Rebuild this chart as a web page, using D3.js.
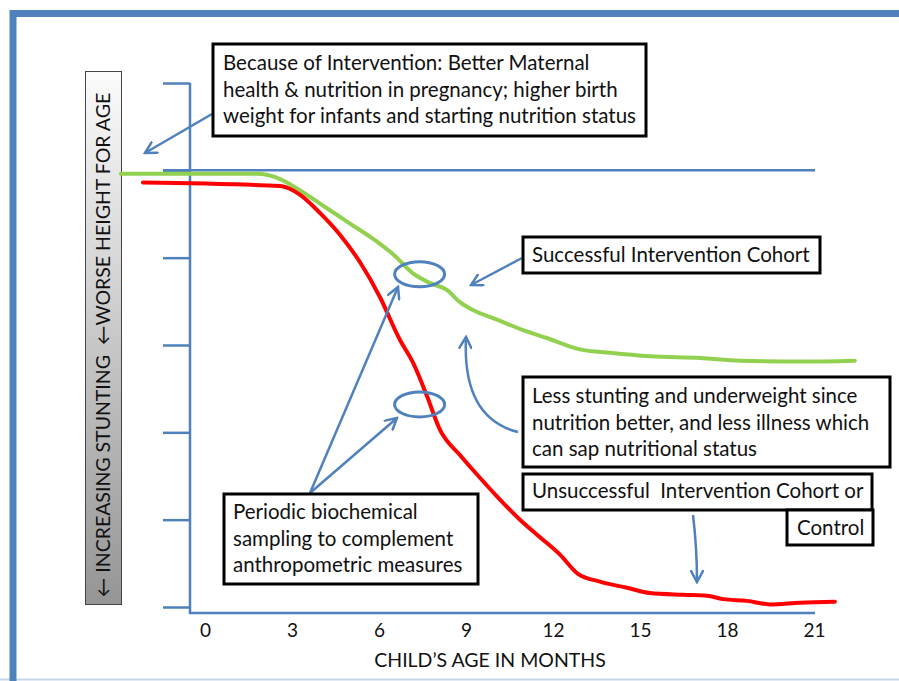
<!DOCTYPE html>
<html>
<head>
<meta charset="utf-8">
<script src="https://cdn.jsdelivr.net/npm/d3@7"></script>
<style>
  body { margin: 0; background: #fff; }
  svg { display: block; font-family: Lato, "Open Sans", sans-serif; }
</style>
</head>
<body>
<div class="container"></div>
<script>
const xTicks = [0, 3, 6, 9, 12, 15, 18, 21];
const yTicks = [1, 0, -1, -2, -3, -4, -5];

// successful intervention cohort (green)
const greenMonths = [-2.90, 1.79, 2.59, 3.28, 4.14, 5.00, 5.86, 6.55, 7.17, 7.76, 8.34, 8.79, 9.24,
  10.07, 10.97, 11.79, 12.93, 13.97, 15.34, 17.07, 18.45, 20.52, 22.41];
const greenValues = [-0.04, -0.04, -0.10, -0.23, -0.42, -0.61, -0.80, -0.98, -1.18, -1.29, -1.37, -1.51, -1.60,
  -1.71, -1.83, -1.92, -2.05, -2.09, -2.13, -2.15, -2.18, -2.19, -2.18];

// unsuccessful cohort or control (red)
const redMonths = [-2.14, 2.59, 3.28, 3.97, 4.66, 5.34, 6.03, 6.72, 7.17, 7.66, 8.10, 8.79, 9.48, 10.17,
  10.86, 11.55, 12.24, 12.86, 13.62, 14.55, 15.34, 16.48, 17.31, 17.86, 18.69, 19.48, 20.52, 21.72];
const redValues = [-0.14, -0.18, -0.28, -0.49, -0.74, -1.05, -1.45, -1.94, -2.20, -2.59, -2.97, -3.26, -3.52, -3.77,
  -4.00, -4.20, -4.40, -4.62, -4.71, -4.78, -4.84, -4.86, -4.87, -4.91, -4.93, -4.97, -4.95, -4.94];

const samplingMonths = [7.4, 7.4];
const samplingValues = [-1.19, -2.68];

const boxes = [
  { x: 213, y: 44, w: 433, h: 92, tx: 223, lines: ["Because of Intervention: Better Maternal", "health & nutrition in pregnancy; higher birth", "weight for infants and starting nutrition status"], base: 70 },
  { x: 523, y: 237, w: 297, h: 36, tx: 532, lines: ["Successful Intervention Cohort"], base: 262 },
  { x: 523, y: 377, w: 367, h: 90, tx: 532, lines: ["Less stunting and underweight since", "nutrition better, and less illness which", "can sap nutritional status"], base: 403 },
  { x: 523, y: 474, w: 349, h: 36, tx: 532, lines: ["Unsuccessful  Intervention Cohort or"], base: 498 },
  { x: 787, y: 510, w: 86, h: 35, tx: 797, lines: ["Control"], base: 535 },
  { x: 224, y: 494, w: 254, h: 90, tx: 233, lines: ["Periodic biochemical", "sampling to complement", "anthropometric measures"], base: 519 }
];

const blue = "#4f81bd";

document.addEventListener("DOMContentLoaded", function () {
  const width = 899, height = 681;

  const svg = d3.select(".container")
      .append("svg")
      .attr("width", width)
      .attr("height", height);

  const defs = svg.append("defs");

  const grad = defs.append("linearGradient")
      .attr("id", "grayfill")
      .attr("x1", 0).attr("y1", 0).attr("x2", 0).attr("y2", 1);
  grad.append("stop").attr("offset", "0%").attr("stop-color", "#fbfbfb");
  grad.append("stop").attr("offset", "100%").attr("stop-color", "#959595");

  defs.append("marker")
      .attr("id", "arrow")
      .attr("viewBox", "0 0 14 14")
      .attr("markerWidth", 14)
      .attr("markerHeight", 14)
      .attr("refX", 12)
      .attr("refY", 7)
      .attr("orient", "auto")
      .attr("markerUnits", "userSpaceOnUse")
    .append("path")
      .attr("d", "M1,1 L12,7 L1,13")
      .attr("fill", "none")
      .attr("stroke", blue)
      .attr("stroke-width", 2.5)
      .attr("stroke-linecap", "round");

  // outer frame
  svg.append("line")
      .attr("x1", 0).attr("x2", width)
      .attr("y1", 679.5).attr("y2", 679.5)
      .attr("stroke", "#c6d6ec")
      .attr("stroke-width", 2);
  svg.append("path")
      .attr("d", "M13,681 L13,13.5 L899,13.5")
      .attr("fill", "none")
      .attr("stroke", blue)
      .attr("stroke-width", 7);

  const x = d3.scaleLinear()
      .domain([0, 21])
      .range([205, 814]);

  const y = d3.scaleLinear()
      .domain([1, -5])
      .range([83, 607]);

  // y axis ticks (no labels)
  const yAxis = d3.axisLeft(y)
      .tickValues(yTicks)
      .tickSize(27)
      .tickSizeOuter(0)
      .tickFormat("");

  const gy = svg.append("g")
      .attr("transform", "translate(190,0)")
      .call(yAxis);
  gy.select(".domain").remove();
  gy.selectAll("line")
      .attr("stroke", blue)
      .attr("stroke-width", 2.5);

  svg.append("path")
      .attr("d", `M190,${y(1)} L190,613 L815,613`)
      .attr("fill", "none")
      .attr("stroke", blue)
      .attr("stroke-width", 2.5);

  // reference line at start level
  svg.append("line")
      .attr("x1", 163).attr("x2", 815)
      .attr("y1", y(0)).attr("y2", y(0))
      .attr("stroke", blue)
      .attr("stroke-width", 2.5);

  const xAxis = d3.axisBottom(x)
      .tickValues(xTicks)
      .tickSize(0)
      .tickPadding(11);

  const gx = svg.append("g")
      .attr("transform", "translate(0,613)")
      .call(xAxis);
  gx.select(".domain").remove();
  gx.selectAll("text")
      .attr("font-size", 19)
      .attr("fill", "#111")
      .style("font-family", "Lato, 'Open Sans', sans-serif");

  svg.append("text")
      .attr("x", 490)
      .attr("y", 667)
      .attr("text-anchor", "middle")
      .attr("font-size", 19.5)
      .attr("fill", "#111")
      .text("CHILD\u2019S AGE IN MONTHS");

  // y label box
  svg.append("rect")
      .attr("x", 85.5).attr("y", 71.5)
      .attr("width", 36).attr("height", 533)
      .attr("fill", "url(#grayfill)")
      .attr("stroke", "#444")
      .attr("stroke-width", 1);

  svg.append("text")
      .attr("transform", "translate(110,345) rotate(-90)")
      .attr("text-anchor", "middle")
      .attr("font-size", 19.5)
      .attr("fill", "#111")
      .style("white-space", "pre")
      .text("\u2190 INCREASING STUNTING  \u2190WORSE HEIGHT FOR AGE");

  const line = d3.line()
      .x(d => x(d[0]))
      .y(d => y(d[1]))
      .curve(d3.curveMonotoneX);

  svg.append("path")
      .datum(greenMonths.map((m, i) => [m, greenValues[i]]))
      .attr("d", line)
      .attr("fill", "none")
      .attr("stroke", "#92d050")
      .attr("stroke-width", 4)
      .attr("stroke-linecap", "round");

  svg.append("path")
      .datum(redMonths.map((m, i) => [m, redValues[i]]))
      .attr("d", line)
      .attr("fill", "none")
      .attr("stroke", "#ff0000")
      .attr("stroke-width", 4)
      .attr("stroke-linecap", "round");

  // sampling ellipses
  svg.selectAll(".sample")
      .data(samplingMonths.map((m, i) => [m, samplingValues[i]]))
      .enter()
      .append("ellipse")
      .attr("class", "sample")
      .attr("cx", d => x(d[0]))
      .attr("cy", d => y(d[1]))
      .attr("rx", 25)
      .attr("ry", 12.5)
      .attr("fill", "none")
      .attr("stroke", blue)
      .attr("stroke-width", 3);

  // arrows
  const arrows = [
    "M212,114 L145,153",
    "M522,258 L471,285",
    "M518,432 Q462,418 466,337",
    "M310,493 L398,287",
    "M310,493 L397,418",
    "M693,515 Q697,548 697,582"
  ];
  svg.selectAll(".arrow")
      .data(arrows)
      .enter()
      .append("path")
      .attr("class", "arrow")
      .attr("d", d => d)
      .attr("fill", "none")
      .attr("stroke", blue)
      .attr("stroke-width", 2.5)
      .attr("marker-end", "url(#arrow)");

  // annotation boxes
  const gb = svg.selectAll(".box")
      .data(boxes)
      .enter()
      .append("g")
      .attr("class", "box");

  gb.append("rect")
      .attr("x", d => d.x)
      .attr("y", d => d.y)
      .attr("width", d => d.w)
      .attr("height", d => d.h)
      .attr("fill", "#fff")
      .attr("stroke", "#000")
      .attr("stroke-width", 3);

  gb.each(function (d) {
    d3.select(this).selectAll("text")
        .data(d.lines)
        .enter()
        .append("text")
        .attr("x", d.tx)
        .attr("y", (t, i) => d.base + i * 26.5)
        .attr("font-size", 20.5)
        .attr("fill", "#111")
        .style("white-space", "pre")
        .text(t => t);
  });
});
</script>
</body>
</html>
